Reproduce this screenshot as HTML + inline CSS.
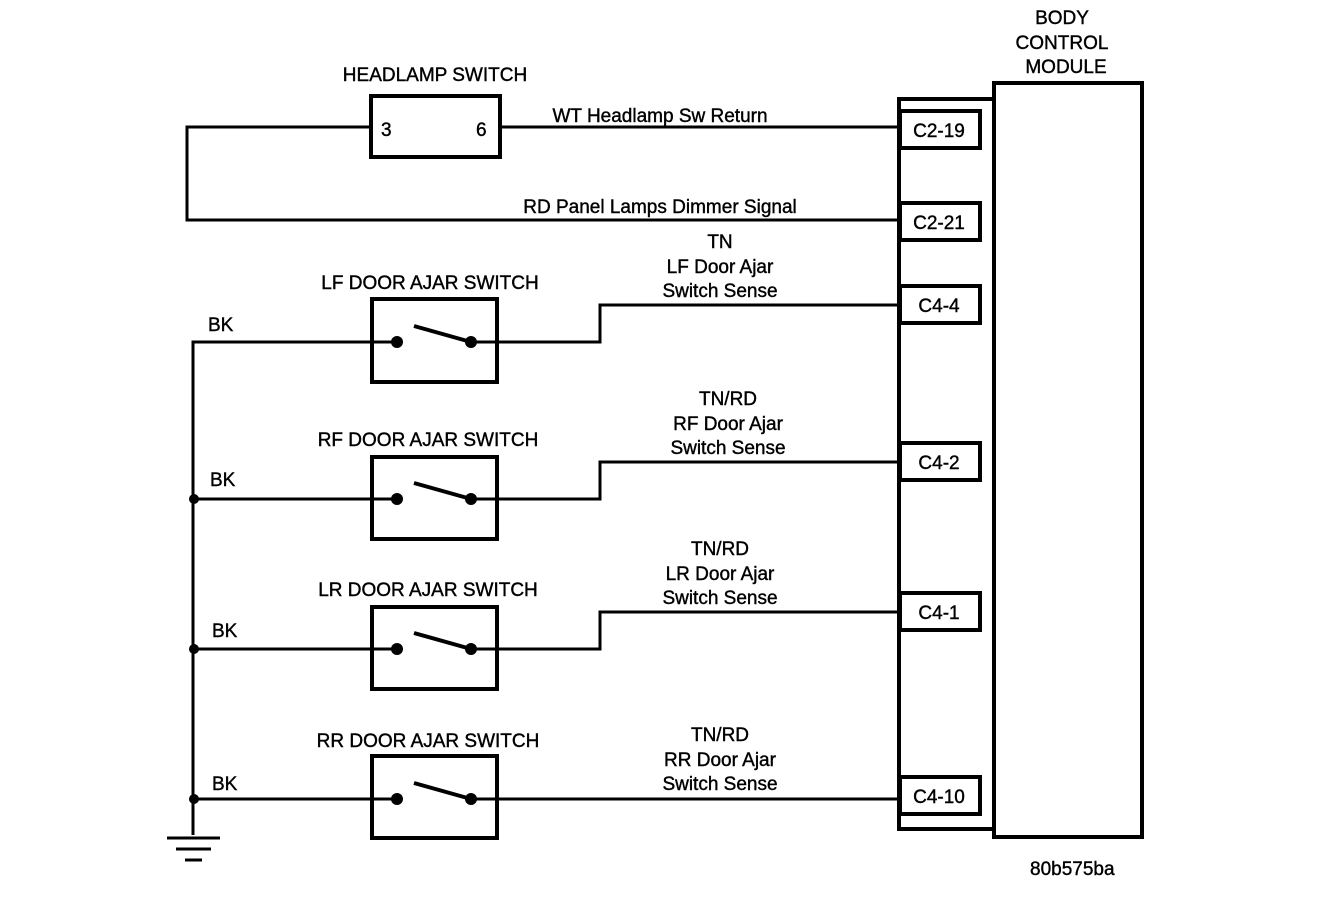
<!DOCTYPE html>
<html><head><style>
body{margin:0;background:#fff}
svg text{font-family:"Liberation Sans",Arial,sans-serif;font-size:19px;fill:#000;stroke:#000;stroke-width:0.4}
</style></head><body>
<svg width="1344" height="916" viewBox="0 0 1344 916" xmlns="http://www.w3.org/2000/svg">
<g fill="none" stroke="#000" stroke-width="4">
<rect x="994" y="83" width="148" height="754"/>
<rect x="899" y="99" width="95" height="730"/>
<rect x="900" y="111" width="80" height="37" fill="#fff"/>
<rect x="900" y="203" width="80" height="37" fill="#fff"/>
<rect x="900" y="286" width="80" height="37" fill="#fff"/>
<rect x="900" y="443" width="80" height="37" fill="#fff"/>
<rect x="900" y="593" width="80" height="37" fill="#fff"/>
<rect x="900" y="777" width="80" height="37" fill="#fff"/>
<rect x="371" y="96" width="129" height="61"/>
<rect x="372" y="299" width="125" height="83"/>
<rect x="372" y="457" width="125" height="82"/>
<rect x="372" y="607" width="125" height="82"/>
<rect x="372" y="756" width="125" height="82"/>
</g>
<g fill="none" stroke="#000" stroke-width="3">
<path d="M500 127H899M371 127H187V220H899"/>
<path d="M193 835V342H397M471 342H600V305H899"/>
<path d="M193 499H397M471 499H600V462H899"/>
<path d="M193 649H397M471 649H600V612H899"/>
<path d="M193 799H397M471 799H899"/>
<path d="M167 838H220M176 849H211M185 860H202"/>
<path d="M471 342L414 326M471 499L414 483M471 649L414 633M471 799L414 783" stroke-width="4"/>
</g>
<g fill="#000">
<circle cx="397" cy="342" r="6"/><circle cx="471" cy="342" r="6"/>
<circle cx="397" cy="499" r="6"/><circle cx="471" cy="499" r="6"/>
<circle cx="397" cy="649" r="6"/><circle cx="471" cy="649" r="6"/>
<circle cx="397" cy="799" r="6"/><circle cx="471" cy="799" r="6"/>
<circle cx="194" cy="499" r="5"/><circle cx="194" cy="649" r="5"/><circle cx="194" cy="799" r="5"/>
</g>
<g text-anchor="middle">
<text x="1062" y="24">BODY</text><text x="1062" y="49">CONTROL</text><text x="1066" y="73">MODULE</text>
<text x="435" y="81">HEADLAMP SWITCH</text>
<text x="660" y="122">WT Headlamp Sw Return</text>
<text x="660" y="213">RD Panel Lamps Dimmer Signal</text>
<text x="720" y="248">TN</text><text x="720" y="273">LF Door Ajar</text><text x="720" y="297">Switch Sense</text>
<text x="430" y="289">LF DOOR AJAR SWITCH</text>
<text x="728" y="405">TN/RD</text><text x="728" y="430">RF Door Ajar</text><text x="728" y="454">Switch Sense</text>
<text x="428" y="446">RF DOOR AJAR SWITCH</text>
<text x="720" y="555">TN/RD</text><text x="720" y="580">LR Door Ajar</text><text x="720" y="604">Switch Sense</text>
<text x="428" y="596">LR DOOR AJAR SWITCH</text>
<text x="720" y="741">TN/RD</text><text x="720" y="766">RR Door Ajar</text><text x="720" y="790">Switch Sense</text>
<text x="428" y="747">RR DOOR AJAR SWITCH</text>
<text x="939" y="137">C2-19</text><text x="939" y="229">C2-21</text>
<text x="939" y="312">C4-4</text><text x="939" y="469">C4-2</text>
<text x="939" y="619">C4-1</text><text x="939" y="803">C4-10</text>
</g>
<text x="381" y="136">3</text><text x="476" y="136">6</text>
<text x="208" y="331">BK</text><text x="210" y="486">BK</text><text x="212" y="637">BK</text><text x="212" y="790">BK</text>
<text x="1030" y="875">80b575ba</text>
</svg>
</body></html>
